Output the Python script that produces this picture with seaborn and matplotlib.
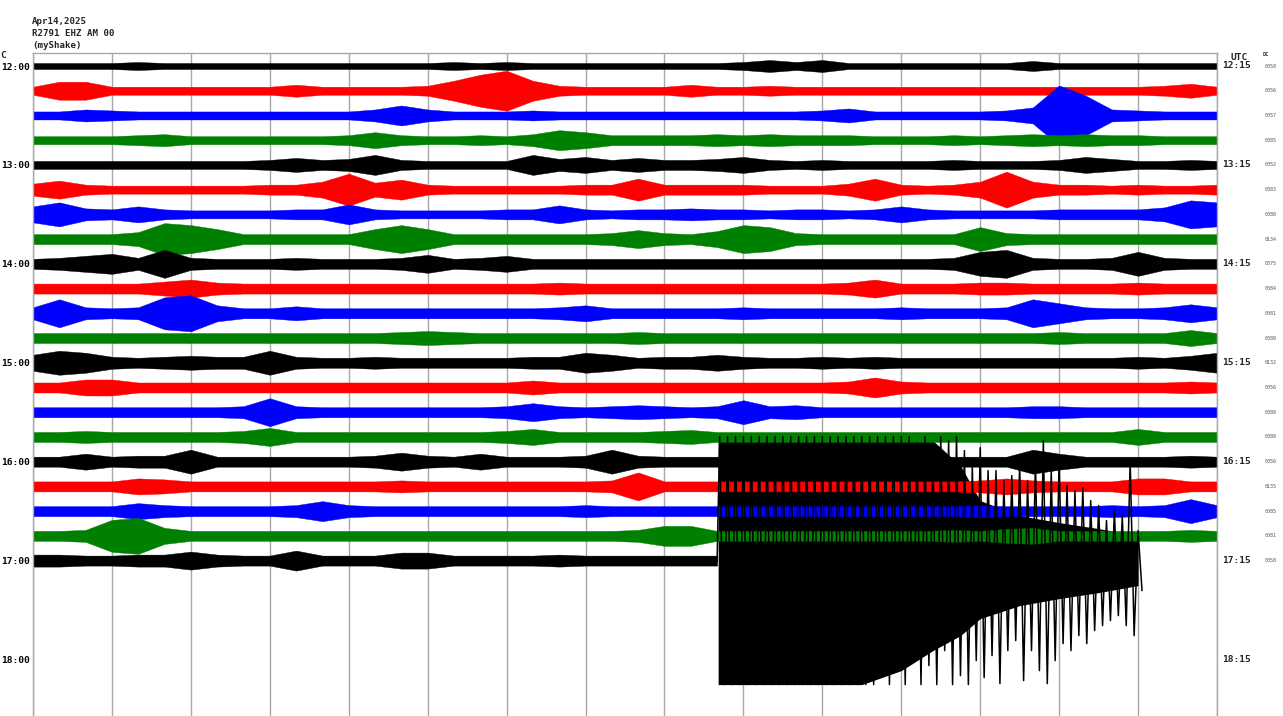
import numpy as np
import pandas as pd
import seaborn as sns
import matplotlib.pyplot as plt

# Helicorder Apr14,2025 - R2791 EHZ AM 00 (myShake)
# envelope half-amplitude (px) of each 15-minute line, one value per 20 s
row_1200 = [3, 3, 3, 3, 4, 3, 3, 3, 3, 3, 3, 3, 3, 3, 3, 3, 4, 3, 4, 3, 3, 3, 3,
            3, 3, 3, 3, 4, 6, 4, 6, 3, 3, 3, 3, 3, 3, 3, 5, 3, 3, 3, 3, 3, 3, 3]
row_1215 = [4, 9, 9, 4, 4, 4, 4, 4, 4, 4, 6, 4, 4, 4, 4, 5, 10, 16, 20, 10, 5, 4, 4,
            4, 4, 6, 4, 4, 5, 4, 4, 4, 4, 4, 4, 4, 4, 4, 4, 4, 4, 4, 4, 5, 7, 4]
row_1230 = [4, 4, 6, 5, 4, 4, 4, 4, 4, 4, 4, 4, 4, 6, 10, 6, 4, 4, 4, 5, 4, 4, 4,
            4, 4, 4, 4, 4, 4, 4, 5, 7, 4, 4, 4, 4, 4, 5, 8, 30, 20, 6, 5, 4, 4, 4]
row_1245 = [4, 4, 4, 4, 5, 6, 4, 4, 4, 4, 4, 4, 5, 8, 5, 4, 4, 5, 4, 6, 10, 8, 5,
            5, 5, 5, 6, 5, 6, 5, 5, 5, 4, 4, 4, 5, 4, 5, 6, 5, 6, 5, 5, 4, 4, 4]
row_1300 = [4, 4, 4, 4, 4, 4, 4, 4, 4, 5, 7, 5, 6, 10, 5, 4, 4, 4, 4, 10, 6, 8, 5,
            7, 5, 5, 6, 8, 5, 4, 5, 4, 4, 4, 4, 5, 4, 4, 4, 5, 8, 6, 4, 4, 5, 4]
row_1315 = [6, 9, 5, 4, 4, 4, 4, 4, 4, 5, 5, 8, 16, 7, 10, 5, 4, 4, 4, 4, 4, 5, 5,
            11, 5, 5, 5, 5, 4, 4, 4, 6, 11, 5, 4, 5, 8, 18, 8, 5, 5, 4, 5, 4, 4, 5]
row_1330 = [8, 12, 6, 5, 8, 5, 4, 4, 4, 4, 5, 5, 10, 5, 4, 4, 4, 4, 5, 5, 9, 5, 4,
            5, 5, 6, 5, 5, 4, 5, 5, 4, 5, 8, 5, 4, 4, 4, 4, 5, 5, 5, 5, 7, 14, 12]
row_1345 = [5, 5, 5, 5, 7, 16, 14, 10, 5, 5, 5, 5, 5, 10, 14, 10, 5, 5, 5, 5, 5, 5, 6,
            9, 6, 5, 8, 14, 12, 6, 5, 5, 5, 5, 5, 5, 12, 6, 5, 5, 5, 5, 5, 5, 5, 5]
row_1400 = [5, 6, 8, 10, 6, 14, 6, 5, 5, 5, 6, 5, 5, 5, 6, 9, 5, 6, 8, 5, 5, 5, 5,
            5, 5, 5, 5, 5, 5, 5, 5, 5, 5, 5, 5, 6, 12, 14, 6, 5, 5, 6, 12, 6, 5, 5]
row_1415 = [5, 5, 5, 5, 5, 7, 9, 6, 5, 5, 5, 5, 5, 5, 5, 5, 5, 5, 5, 5, 6, 5, 5,
            5, 5, 5, 5, 5, 5, 5, 5, 6, 9, 5, 5, 5, 6, 6, 5, 5, 5, 5, 6, 5, 5, 5]
row_1430 = [6, 14, 6, 5, 6, 16, 18, 8, 5, 5, 7, 5, 5, 5, 5, 5, 5, 5, 5, 5, 6, 8, 5,
            5, 5, 5, 5, 6, 5, 5, 5, 5, 5, 6, 5, 5, 5, 6, 14, 10, 6, 5, 5, 6, 9, 6]
row_1445 = [5, 5, 5, 5, 5, 5, 5, 5, 5, 5, 5, 5, 5, 5, 6, 7, 6, 5, 5, 5, 5, 5, 5,
            6, 5, 5, 5, 5, 5, 5, 5, 5, 5, 5, 5, 5, 5, 5, 5, 6, 5, 5, 5, 5, 8, 5]
row_1500 = [8, 12, 10, 6, 5, 6, 7, 6, 6, 12, 6, 5, 5, 6, 5, 5, 5, 5, 5, 6, 6, 10, 8,
            5, 6, 6, 8, 6, 5, 5, 6, 5, 6, 5, 5, 5, 5, 5, 5, 5, 5, 5, 6, 5, 7, 10]
row_1515 = [5, 5, 8, 8, 5, 5, 5, 5, 5, 5, 5, 5, 5, 5, 5, 5, 5, 5, 5, 7, 5, 5, 5,
            5, 5, 5, 5, 5, 5, 5, 5, 6, 10, 6, 5, 5, 5, 5, 5, 5, 5, 5, 5, 5, 6, 5]
row_1530 = [5, 5, 5, 5, 5, 5, 5, 5, 6, 14, 6, 5, 5, 5, 5, 5, 5, 5, 6, 9, 6, 5, 6,
            7, 6, 5, 6, 12, 6, 7, 5, 5, 5, 5, 5, 5, 5, 5, 6, 6, 5, 5, 5, 5, 5, 5]
row_1545 = [5, 5, 6, 5, 5, 5, 5, 5, 6, 9, 5, 5, 5, 5, 5, 5, 5, 5, 6, 8, 5, 5, 5,
            5, 6, 7, 5, 5, 5, 5, 5, 5, 5, 5, 5, 5, 5, 5, 5, 5, 5, 5, 8, 5, 5, 5]
row_1600 = [5, 5, 8, 5, 6, 6, 12, 5, 5, 5, 5, 5, 5, 6, 9, 6, 5, 8, 5, 5, 5, 6, 12,
            6, 5, 5, 5, 5, 5, 5, 5, 5, 5, 5, 5, 5, 5, 5, 12, 8, 5, 5, 5, 5, 6, 5]
row_1615 = [5, 5, 5, 5, 8, 7, 5, 5, 5, 5, 5, 5, 5, 5, 6, 5, 5, 5, 5, 5, 5, 5, 6,
            14, 5, 5, 5, 5, 5, 5, 5, 5, 5, 5, 5, 5, 6, 8, 6, 5, 5, 5, 8, 8, 5, 5]
row_1630 = [5, 5, 5, 5, 8, 6, 5, 5, 5, 5, 6, 10, 6, 5, 5, 5, 5, 5, 5, 5, 5, 6, 5,
            5, 5, 5, 5, 5, 5, 5, 5, 5, 5, 5, 5, 5, 6, 5, 5, 5, 5, 6, 5, 6, 12, 6]
row_1645 = [5, 5, 6, 16, 18, 8, 5, 5, 5, 5, 5, 5, 5, 5, 5, 5, 5, 5, 5, 5, 5, 5, 5,
            6, 10, 10, 5, 5, 5, 5, 5, 5, 5, 5, 5, 6, 5, 7, 8, 5, 5, 5, 5, 5, 6, 5]
# last line stops where the quake starts (minute 8.67)
row_1700 = [6, 6, 5, 5, 6, 6, 9, 6, 5, 5, 10, 5, 5, 5, 8, 8, 5, 5, 5, 5, 6, 5, 5,
            5, 5, 5, 5]

# the earthquake on the 17:00 line, peaks every 0.1 min from 8.7 to 14.0 (clipped at 124)
quake_up = [124, 124, 124, 124, 124, 124, 124, 124, 124, 124, 124, 124, 124, 124,
            124, 124, 124, 124, 124, 124, 124, 124, 124, 124, 124, 118, 124, 110,
            124, 120, 124, 110, 95, 113, 90, 90, 80, 85, 97, 80, 100, 120, 90, 103,
            75, 70, 73, 60, 55, 40, 50, 45, 100, 30]
quake_down = [124, 124, 124, 124, 124, 124, 124, 124, 124, 124, 124, 124, 124, 124,
              124, 124, 124, 124, 124, 124, 110, 124, 100, 124, 95, 124, 105, 124,
              90, 124, 115, 124, 100, 117, 95, 123, 90, 80, 120, 90, 110, 123, 100,
              83, 90, 75, 83, 70, 65, 60, 55, 65, 75, 30]
# solid black part of the quake (above / below the line)
core_minutes = [8.68, 9.0, 9.5, 10.0, 10.5, 11.0, 11.4, 11.75, 12.0, 12.5, 13.0, 13.5, 14.0]
core_top = [124, 124, 124, 124, 124, 124, 120, 95, 60, 45, 38, 32, 25]
core_bottom = [124, 124, 124, 124, 124, 110, 90, 75, 58, 45, 38, 32, 25]

left_labels = ["12:00", "13:00", "14:00", "15:00", "16:00", "17:00", "18:00"]
right_labels = ["12:15", "13:15", "14:15", "15:15", "16:15", "17:15", "18:15"]
dc_values = ["0058", "0056", "0057", "0085", "0052", "0083", "0080", "0134",
             "0075", "0084", "0081", "0080", "0132", "0056", "0088", "0088",
             "0056", "0135", "0085", "0081", "0058"]

rows = [row_1200, row_1215, row_1230, row_1245, row_1300, row_1315, row_1330,
        row_1345, row_1400, row_1415, row_1430, row_1445, row_1500, row_1515,
        row_1530, row_1545, row_1600, row_1615, row_1630, row_1645, row_1700]
trace_colors = ["black", "#ff0000", "#0000ff", "#008000"]

sns.set_theme(style="white")
plt.rcParams['font.family'] = ['DejaVu Sans Mono']
plt.rcParams['path.simplify'] = False  # keep every stroke of the quake

ROW = 24.73  # pixels between two lines
W, H = 1283, 716
fig = plt.figure(figsize=(W / 100, H / 100), dpi=100)
ax = fig.add_axes([33 / W, 0, 1184 / W, 663 / H])

# quake core goes under the coloured lines
y_q = 20 * ROW
ax.fill_between(core_minutes, y_q - np.array(core_top), y_q + np.array(core_bottom),
                color="black", lw=0, zorder=1.5)

minutes = np.arange(46) / 3.0
for i, amp in enumerate(rows):
    amp = np.array(amp, dtype=float)
    t = minutes[:len(amp)]
    y0 = i * ROW
    c = trace_colors[i % 4]
    ax.fill_between(t, y0 - amp, y0 + amp, color=c, lw=0.3, zorder=2)
    sns.lineplot(x=t, y=np.full(len(t), y0), color=c, lw=0.8, ax=ax, zorder=2)

# quake swings drawn over everything
t_q = 8.7 + 0.1 * np.arange(len(quake_up))
zz = pd.DataFrame({
    "t": np.ravel(np.column_stack([t_q, t_q + 0.05])),
    "y": np.ravel(np.column_stack([y_q - np.array(quake_up), y_q + np.array(quake_down)])),
})
zz = pd.concat([pd.DataFrame({"t": [minutes[26]], "y": [y_q]}), zz], ignore_index=True)
sns.lineplot(data=zz, x="t", y="y", sort=False, estimator=None, color="black",
             lw=1.1, ax=ax, zorder=3)

ax.set_xlim(0, 15)
ax.set_ylim(650, -13)
ax.set_xticks(range(16))
ax.set_xticklabels([])
ax.grid(axis="x", color="#a8a8a8", lw=1)
ax.grid(axis="y", visible=False)
ax.set_axisbelow(True)
ax.set_xlabel("")
ax.set_ylabel("")
for s in ["left", "top", "right"]:
    ax.spines[s].set_color("#a8a8a8")
    ax.spines[s].set_linewidth(1)
ax.spines["bottom"].set_visible(False)

hour_y = [k * 4 * ROW for k in range(len(left_labels))]
ax.set_yticks(hour_y)
ax.set_yticklabels(left_labels, fontsize=6.8, fontweight="bold")
ax.tick_params(axis="y", length=0, pad=2, colors="black")
ax.tick_params(axis="x", length=0)

for y, lbl in zip(hour_y, right_labels):
    ax.annotate(lbl, xy=(1, y), xycoords=("axes fraction", "data"), xytext=(3.5, 0),
                textcoords="offset points", ha="left", va="center",
                fontsize=6.8, fontweight="bold")
for i, v in enumerate(dc_values):
    ax.annotate(v, xy=(1, i * ROW), xycoords=("axes fraction", "data"), xytext=(34, 0),
                textcoords="offset points", ha="left", va="center",
                fontsize=3.6, color="#555555")

fig.text(1239 / W, 1 - 57 / H, "UTC", ha="center", va="center", fontsize=6.8,
         fontweight="bold")
fig.text(1266 / W, 1 - 55 / H, "DC", ha="center", va="center", fontsize=4,
         fontweight="bold", color="#333333")
# only the last letter of the left "UTC" fits in the margin
fig.text(0.5 / W, 1 - 56 / H, "C", ha="left", va="center", fontsize=6.8,
         fontweight="bold")

header = ["Apr14,2025", "R2791 EHZ AM 00", "(myShake)"]
for k, line in enumerate(header):
    fig.text(32 / W, 1 - (21 + 12.5 * k) / H, line, ha="left", va="center",
             fontsize=6.6, fontweight="bold")

fig.savefig("out.png", dpi=100)
